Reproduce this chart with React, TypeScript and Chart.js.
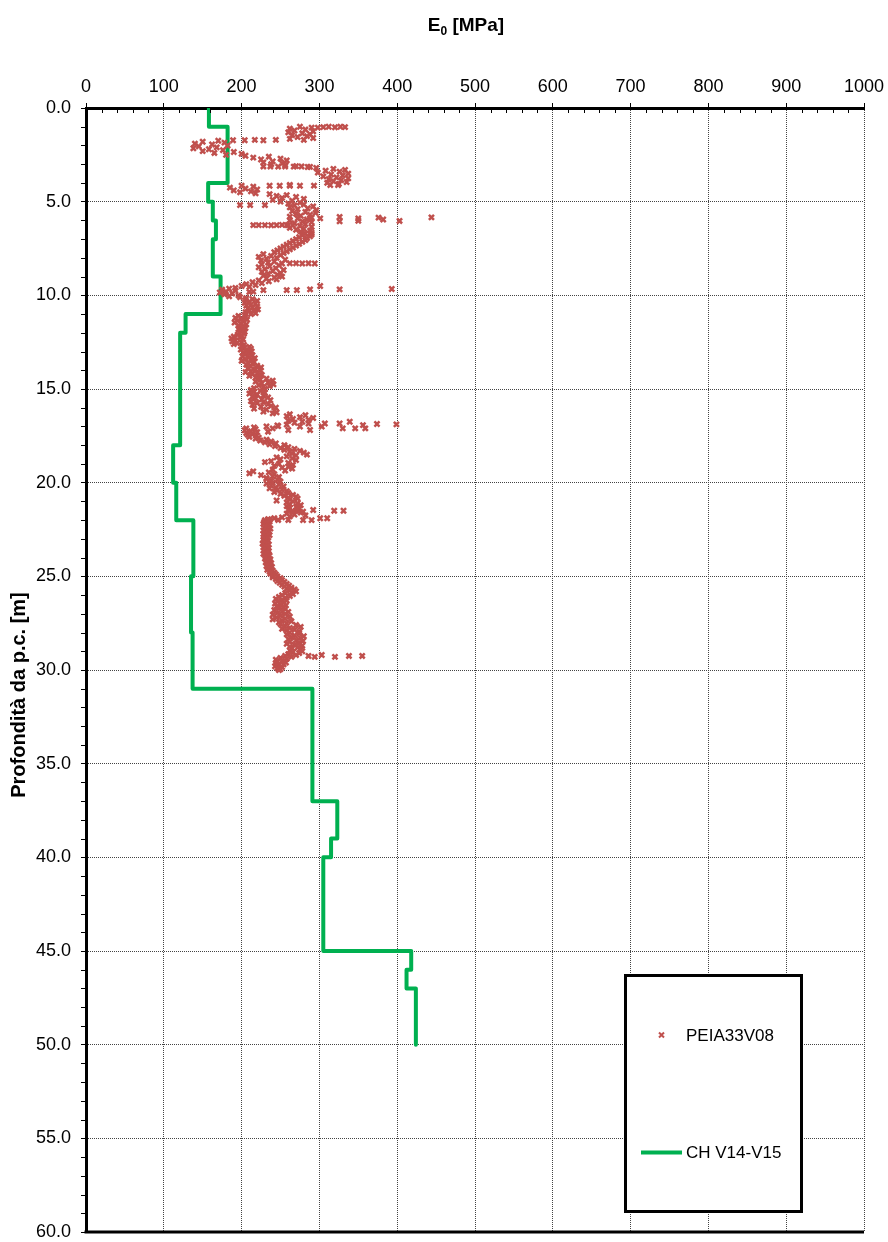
import React, { useEffect, useRef } from 'react';
import { Chart, registerables } from 'chart.js';

Chart.register(...registerables);

const FONT = '"Liberation Sans", Arial, Helvetica, sans-serif';

// Axis ranges
const X_MIN = 0;
const X_MAX = 1000;
const X_STEP = 100;
const X_MINOR = 20;
const Y_MIN = 0;
const Y_MAX = 60;
const Y_STEP = 5;
const Y_MINOR = 1;

const xTitleMain = 'E';
const xTitleSub = '0';
const xTitleRest = ' [MPa]';
const yTitle = 'Profondità da p.c. [m]';
const seriesNames = ['PEIA33V08', 'CH V14-V15'];

// PEIA33V08: E0 readings every 0.05 m starting at 1.00 m (one row per metre)
const peiaTop = 1.0;
const peiaStep = 0.05;
const peiaE0 = [
  275, 290, 262, 282, 268, 292, 260, 278, 288, 265, 284, 272, 292, 262, 280, 170, 150, 178, 140, 162,
  182, 145, 168, 138, 158, 176, 150, 190, 165, 200, 180, 205, 235, 215, 250, 225, 258, 240, 228, 252,
  238, 256, 270, 285, 296, 318, 333, 308, 326, 298, 337, 315, 330, 305, 322, 337, 312, 328, 318, 335,
  310, 325, 262, 200, 215, 185, 205, 220, 190, 212, 198, 218, 236, 258, 245, 270, 252, 280, 240, 265,
  250, 275, 260, 280, 268, 292, 262, 285, 272, 296, 265, 282, 295, 270, 288, 276, 262, 290, 272, 284,
  262, 278, 290, 268, 282, 258, 275, 290, 262, 280, 270, 288, 276, 290, 282, 290, 278, 288, 274, 284,
  270, 282, 266, 278, 262, 274, 258, 270, 254, 266, 250, 262, 246, 258, 242, 254, 228, 250, 238, 222,
  245, 232, 256, 225, 242, 234, 252, 226, 248, 236, 222, 244, 230, 254, 240, 226, 250, 234, 246, 228,
  252, 242, 232, 245, 222, 235, 214, 226, 206, 218, 200, 210, 192, 184, 175, 192, 180, 172, 188, 178,
  196, 184, 198, 206, 214, 205, 220, 210, 204, 218, 212, 206, 220, 214, 208, 221, 210, 216, 205, 218,
  212, 204, 196, 205, 192, 200, 207, 195, 202, 191, 199, 206, 196, 203, 198, 205, 196, 202, 199, 204,
  197, 203, 195, 200, 190, 198, 187, 202, 192, 188, 200, 194, 190, 203, 200, 210, 204, 212, 199, 207,
  213, 202, 209, 204, 214, 201, 210, 217, 205, 212, 200, 216, 208, 214, 206, 220, 212, 225, 208, 218,
  224, 212, 205, 220, 214, 226, 210, 222, 218, 232, 224, 240, 218, 234, 226, 241, 222, 236, 228, 216,
  230, 212, 224, 216, 230, 210, 220, 228, 214, 234, 218, 226, 237, 212, 228, 220, 234, 214, 238, 225,
  244, 216, 232, 242, 228, 245, 240, 262, 282, 258, 275, 292, 266, 286, 260, 278, 268, 286, 258, 246,
  232, 216, 206, 218, 204, 212, 220, 206, 214, 208, 219, 210, 222, 218, 232, 224, 238, 230, 244, 236,
  255, 243, 260, 250, 268, 255, 275, 262, 280, 265, 284, 270, 258, 245, 265, 250, 270, 238, 230, 260,
  248, 266, 242, 260, 252, 265, 240, 256, 215, 235, 210, 242, 225, 240, 248, 232, 232, 246, 238, 250,
  240, 232, 248, 238, 254, 244, 236, 252, 246, 258, 242, 260, 250, 266, 255, 270, 260, 272, 262, 245,
  266, 258, 272, 262, 276, 258, 270, 262, 274, 260, 270, 265, 276, 258, 268, 282, 262, 252, 242, 234,
  230, 235, 229, 233, 228, 236, 231, 234, 229, 237, 232, 228, 235, 230, 234, 228, 236, 231, 229, 234,
  231, 228, 234, 229, 232, 227, 235, 230, 233, 228, 234, 231, 229, 235, 230, 234, 228, 233, 236, 231,
  234, 230, 237, 232, 236, 231, 238, 233, 237, 232, 239, 234, 238, 233, 240, 236, 242, 237, 244, 240,
  246, 240, 250, 244, 252, 246, 255, 249, 258, 252, 261, 255, 264, 258, 268, 262, 270, 264, 256, 266,
  252, 262, 248, 256, 244, 252, 258, 246, 254, 243, 250, 257, 245, 253, 248, 256, 242, 252, 260, 246,
  256, 240, 250, 262, 245, 256, 240, 252, 264, 248, 258, 250, 270, 256, 276, 262, 252, 268, 258, 274,
  262, 274, 258, 268, 280, 264, 276, 260, 270, 279, 262, 274, 258, 268, 278, 262, 272, 265, 276, 262,
  278, 266, 274, 260, 270, 256, 264, 250, 258, 244, 252, 246, 257, 244, 254, 248, 243, 252, 246, 250,
  248,
];

// PEIA33V08: isolated readings (horizontal streaks)
const peiaSpikeDepth = [
  1.05, 1.02, 1.0, 1.03, 1.0, 1.02,
  1.72, 1.72, 1.7, 1.72, 1.7,
  3.12, 3.12, 3.13, 3.12, 3.13, 3.12, 3.14,
  4.15, 4.15, 4.15, 4.15, 4.14, 4.11, 4.11,
  5.18, 5.18, 5.18,
  5.89, 5.89, 5.82, 6.05, 5.9, 6.02, 5.85, 5.95, 6.03, 5.84,
  6.25, 6.25, 6.25, 6.26, 6.25, 6.24, 6.25, 6.26,
  8.29, 8.29, 8.3, 8.29, 8.3,
  9.72, 9.72, 9.72, 9.68, 9.5, 9.68, 9.66, 9.82, 9.8,
  17.28, 17.1, 16.98, 17.19, 17.0, 17.19, 17.0, 16.84, 16.84, 17.1, 16.75, 17.1, 17.1, 16.93, 16.87, 16.89,
  21.55, 21.46, 21.9, 21.9, 21.5, 21.5, 22.0, 22.0, 21.99, 21.99, 21.99,
  29.25, 29.3, 29.2, 29.3, 29.25, 29.25,
];
const peiaSpikeE0 = [
  298, 305, 312, 320, 327, 333,
  189, 204, 217, 228, 244,
  228, 237, 247, 256, 267, 277, 288,
  236, 249, 262, 275, 293, 314, 324,
  198, 211, 230,
  288, 301, 326, 326, 350, 350, 376, 382, 403, 444,
  215, 222, 230, 238, 245, 252, 260, 266,
  262, 270, 278, 286, 294,
  228, 258, 271, 288, 301, 326, 393, 210, 215,
  234, 240, 247, 260, 275, 288, 303, 307, 326, 330, 339, 346, 359, 356, 374, 399,
  279, 292, 301, 310, 319, 331, 290, 279, 236, 247, 260,
  286, 294, 303, 320, 338, 355,
];

// CH V14-V15: layer boundaries (m) and E0 per layer (MPa)
const chBreaks = [0, 1, 4, 5, 6, 7, 9, 11, 12, 18, 20, 22, 25, 28, 31, 37, 39, 40, 45, 46, 47, 50];
const chE0 = [158, 182, 157, 163, 167, 163, 173, 128, 121, 112, 116, 138, 135, 137, 291, 323, 315, 305, 418, 412, 424];

const RED = '#C0504D';
const GREEN = '#00B050';

function buildPeiaPoints() {
  const pts: { x: number; y: number }[] = [];
  peiaE0.forEach((v, i) => pts.push({ x: v, y: +(peiaTop + i * peiaStep).toFixed(2) }));
  peiaSpikeDepth.forEach((d, i) => pts.push({ x: peiaSpikeE0[i], y: d }));
  return pts;
}

function buildChPoints() {
  const pts: { x: number; y: number }[] = [];
  chE0.forEach((v, i) => {
    pts.push({ x: v, y: chBreaks[i] });
    pts.push({ x: v, y: chBreaks[i + 1] });
  });
  return pts;
}

const decorPlugin = {
  id: 'decor',
  afterDraw(chart: any) {
    const { ctx, chartArea, scales } = chart;
    const xs = scales.x;
    const ys = scales.y;
    ctx.save();
    ctx.setLineDash([]);
    ctx.strokeStyle = '#000';
    ctx.lineWidth = 1;
    ctx.beginPath();
    // minor ticks on depth axis (outside)
    for (let k = Y_MIN; k <= Y_MAX; k += Y_MINOR) {
      if (k % Y_STEP === 0) continue;
      const py = Math.round(ys.getPixelForValue(k)) + 0.5;
      ctx.moveTo(chartArea.left - 5, py);
      ctx.lineTo(chartArea.left, py);
    }
    // minor ticks on E0 axis (inside)
    for (let k = X_MIN; k <= X_MAX; k += X_MINOR) {
      if (k % X_STEP === 0) continue;
      const px = Math.round(xs.getPixelForValue(k)) + 0.5;
      ctx.moveTo(px, chartArea.top);
      ctx.lineTo(px, chartArea.top + 5);
    }
    ctx.stroke();

    // bottom border
    ctx.lineWidth = 3;
    ctx.beginPath();
    ctx.moveTo(chartArea.left - 1.5, chartArea.bottom);
    ctx.lineTo(chartArea.right, chartArea.bottom);
    ctx.stroke();

    // X title with subscript
    ctx.fillStyle = '#000';
    ctx.textAlign = 'left';
    ctx.textBaseline = 'alphabetic';
    ctx.font = `bold 19px ${FONT}`;
    const wE = ctx.measureText(xTitleMain).width;
    const wR = ctx.measureText(xTitleRest).width;
    ctx.font = `bold 12px ${FONT}`;
    const wS = ctx.measureText(xTitleSub).width;
    const total = wE + wS + wR;
    const sx = 466 - total / 2;
    ctx.font = `bold 19px ${FONT}`;
    ctx.fillText(xTitleMain, sx, 31);
    ctx.font = `bold 12px ${FONT}`;
    ctx.fillText(xTitleSub, sx + wE, 35);
    ctx.font = `bold 19px ${FONT}`;
    ctx.fillText(xTitleRest, sx + wE + wS, 31);

    // Y title
    ctx.save();
    ctx.translate(19, 695);
    ctx.rotate(-Math.PI / 2);
    ctx.textAlign = 'center';
    ctx.textBaseline = 'middle';
    ctx.font = `bold 20px ${FONT}`;
    ctx.fillText(yTitle, 0, 0);
    ctx.restore();

    // Legend box
    const lx = 625.5, ly = 975.5, lw = 176, lh = 236;
    ctx.fillStyle = '#fff';
    ctx.fillRect(lx, ly, lw, lh);
    ctx.lineWidth = 3;
    ctx.strokeStyle = '#000';
    ctx.strokeRect(lx, ly, lw, lh);

    // marker for PEIA33V08
    const mx = 661.5, my = 1035;
    ctx.strokeStyle = RED;
    ctx.lineWidth = 2;
    ctx.beginPath();
    ctx.moveTo(mx - 2.5, my - 2.5);
    ctx.lineTo(mx + 2.5, my + 2.5);
    ctx.moveTo(mx - 2.5, my + 2.5);
    ctx.lineTo(mx + 2.5, my - 2.5);
    ctx.stroke();

    // line for CH
    ctx.strokeStyle = GREEN;
    ctx.lineWidth = 4;
    ctx.beginPath();
    ctx.moveTo(641, 1152.5);
    ctx.lineTo(682, 1152.5);
    ctx.stroke();

    ctx.fillStyle = '#000';
    ctx.font = `17px ${FONT}`;
    ctx.textAlign = 'left';
    ctx.textBaseline = 'middle';
    ctx.fillText(seriesNames[0], 686, 1036);
    ctx.fillText(seriesNames[1], 686, 1153);
    ctx.restore();
  },
};

export default function App() {
  const ref = useRef<HTMLCanvasElement>(null);
  useEffect(() => {
    const canvas = ref.current;
    if (!canvas) return;
    const chart = new Chart(canvas, {
      type: 'scatter',
      data: {
        datasets: [
          {
            label: seriesNames[0],
            data: buildPeiaPoints(),
            pointStyle: 'crossRot',
            pointRadius: 3.6,
            pointBorderWidth: 2.5,
            borderColor: RED,
            backgroundColor: RED,
            showLine: false,
            order: 0,
          },
          {
            label: seriesNames[1],
            data: buildChPoints(),
            showLine: true,
            borderColor: GREEN,
            backgroundColor: GREEN,
            borderWidth: 4,
            pointRadius: 0,
            tension: 0,
            fill: false,
            borderJoinStyle: 'round',
            borderCapStyle: 'round',
            order: 1,
          },
        ],
      } as any,
      options: {
        animation: false,
        responsive: false,
        devicePixelRatio: 1,
        layout: { padding: { left: 0, top: 0, right: 24, bottom: 10 } },
        plugins: {
          legend: { display: false },
          tooltip: { enabled: false },
          title: { display: false },
        },
        scales: {
          x: {
            type: 'linear',
            position: 'top',
            min: X_MIN,
            max: X_MAX,
            ticks: {
              stepSize: X_STEP,
              color: '#000',
              font: { family: FONT, size: 18 },
              padding: 5,
              maxRotation: 0,
              autoSkip: false,
              callback: (v: any) => String(v),
            },
            grid: { color: '#444', lineWidth: 1, tickLength: 5, tickColor: '#000', tickWidth: 1 },
            border: { display: true, color: '#000', width: 3, dash: [1, 1] },
            afterFit: (s: any) => {
              s.height = 108;
              s.paddingLeft = 0;
              s.paddingRight = 0;
            },
          },
          y: {
            type: 'linear',
            reverse: true,
            min: Y_MIN,
            max: Y_MAX,
            ticks: {
              stepSize: Y_STEP,
              color: '#000',
              font: { family: FONT, size: 18 },
              padding: 10,
              autoSkip: false,
              callback: (v: any) => Number(v).toFixed(1),
            },
            grid: { color: '#444', lineWidth: 1, tickLength: 5, tickColor: '#000', tickWidth: 1 },
            border: { display: true, color: '#000', width: 3, dash: [1, 1] },
            afterFit: (s: any) => {
              s.width = 86;
              s.paddingTop = 0;
              s.paddingBottom = 0;
            },
          },
        },
      } as any,
      plugins: [decorPlugin],
    });
    return () => chart.destroy();
  }, []);
  return (
    <div style={{ position: 'absolute', left: 0, top: 0, width: 888, height: 1242, background: '#fff' }}>
      <canvas ref={ref} width={888} height={1242} style={{ display: 'block' }} />
    </div>
  );
}
